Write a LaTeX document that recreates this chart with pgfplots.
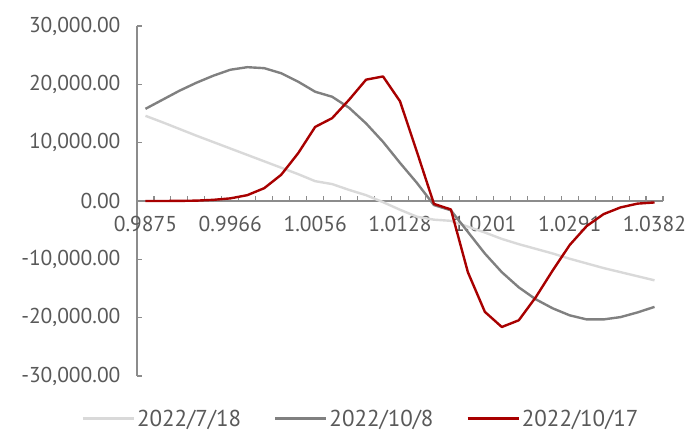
\documentclass[border=0pt]{standalone}
\usepackage{fontspec}
\setmainfont{PT Sans}
\usepackage{pgfplots}
\pgfplotsset{compat=1.18}
\usepackage{pgfplotstable}

\definecolor{txt}{HTML}{595959}
\definecolor{axc}{HTML}{8C8C8C}
\definecolor{lgray}{HTML}{D9D9D9}
\definecolor{dgray}{HTML}{808080}
\definecolor{dred}{HTML}{A80000}

% i = category index, labels every 5th category
\pgfplotstableread{
i  s718    s108    s1017
1  14600   15800   0
2  13500   17350   0
3  12350   18900   20
4  11200   20270   60
5  10100   21480   200
6  9000    22500   450
7  7900    22940   1000
8  6800    22770   2200
9  5700    21900   4500
10 4600    20450   8200
11 3400    18730   12700
12 2900    17870   14200
13 1900    15980   17350
14 1000    13300   20800
15 -200    10140   21350
16 -1500   6530    17100
17 -2700   3090    8400
18 -3200   -700    -500
19 -3400   -1600   -1450
20 -4400   -5300   -12200
21 -5400   -9000   -19000
22 -6500   -12200  -21600
23 -7400   -14800  -20450
24 -8200   -16850  -16500
25 -9000   -18400  -11900
26 -9900   -19600  -7550
27 -10700  -20300  -4300
28 -11500  -20300  -2250
29 -12200  -19900  -1100
30 -12900  -19100  -450
31 -13600  -18150  -250
}\data

\begin{document}
\begin{tikzpicture}
\useasboundingbox (-137pt,-67pt) rectangle (563pt,376pt);
\begin{axis}[
    at={(0pt,0pt)}, anchor=south west,
    scale only axis, width=526pt, height=350pt,
    xmin=0.5, xmax=31.5, ymin=-30000, ymax=30000,
    axis x line*=middle, axis y line*=left,
    axis line style={axc, line width=1.1pt},
    tick align=inside,
    xtick={1,6,...,31},
    xticklabels={0.9875,0.9966,1.0056,1.0128,1.0201,1.0291,1.0382},
    major x tick style={draw=none},
    minor xtick={0.5,1.5,...,31.5},
    minor x tick style={axc, line width=1.1pt},
    minor tick length=5pt,
    ytick={-30000,-20000,...,30000},
    major y tick style={axc, line width=1.1pt},
    major tick length=5pt,
    scaled y ticks=false,
    tick label style={font=\fontsize{21.5}{22}\selectfont, text=txt},
    xticklabel style={yshift=-12pt},
    yticklabel style={xshift=-13pt, /pgf/number format/fixed, /pgf/number format/fixed zerofill,
        /pgf/number format/precision=2, /pgf/number format/1000 sep={,},
        /pgf/number format/assume math mode=true},
    legend style={at={(0.426,-0.122)}, anchor=center, draw=none, fill=none,
        font=\fontsize{23}{24}\selectfont, text=txt, legend columns=3,
        /tikz/every even column/.append style={column sep=31pt}},
    legend image code/.code={\draw[#1] (0pt,0pt) -- (51pt,0pt);},
    every axis plot/.append style={line width=2.4pt, line join=round},
]
\addplot[lgray] table[x=i, y=s718] {\data};
\addplot[dgray] table[x=i, y=s108] {\data};
\addplot[dred] table[x=i, y=s1017] {\data};
\legend{2022/7/18, 2022/10/8, 2022/10/17}
\end{axis}
\end{tikzpicture}
\end{document}
